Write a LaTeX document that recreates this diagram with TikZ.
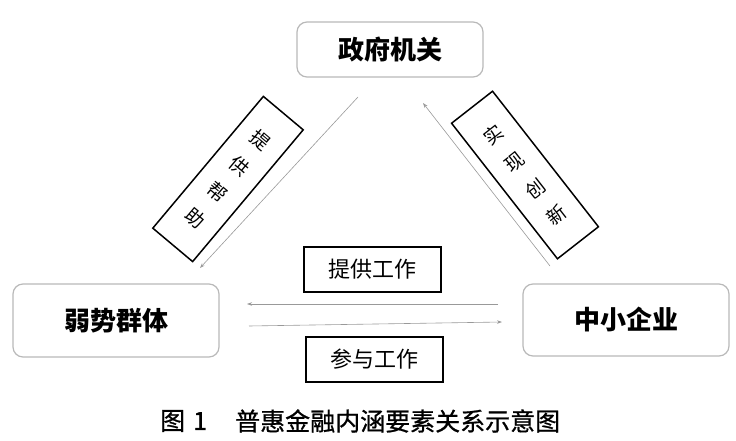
\documentclass[tikz,border=0pt]{standalone}
\usepackage{fontspec}
\setmainfont{Noto Sans CJK SC}
\newfontfamily\capfont[FakeBold=0.8]{Noto Sans CJK SC}
\usetikzlibrary{arrows.meta}
\begin{document}
\begin{tikzpicture}[x=1pt,y=-1pt,
  mainbox/.style={draw=gray!55, line width=1.2pt, rounded corners=10pt, inner sep=0pt,
    font=\fontsize{26}{30}\selectfont\bfseries},
  labelbox/.style={draw=black, line width=1.5pt, inner sep=0pt, minimum width=137pt, minimum height=45pt,
    font=\fontsize{22}{26}\selectfont},
  diagbox/.style={draw=black, line width=1.5pt, inner sep=0pt, align=center,
    minimum width=52pt, minimum height=172pt, font=\fontsize{19}{34}\selectfont},
  flow/.style={draw=gray!80, line width=0.6pt, -{Stealth[length=5pt,width=3.5pt]}},
  captxt/.style={inner sep=0pt, anchor=west, font=\capfont\fontsize{25}{28}\selectfont}]
\path[use as bounding box] (0,0) rectangle (736,441);

\node[mainbox, minimum width=186pt, minimum height=55pt] (gov) at (390,49.5) {政府机关};
\node[mainbox, minimum width=206pt, minimum height=73pt] (weak) at (116,320.5) {弱势群体};
\node[mainbox, minimum width=206pt, minimum height=72pt] (sme) at (626,320) {中小企业};

\node[labelbox] (work1) at (372.5,269.5) {提供工作};
\node[labelbox] (work2) at (374.5,359.5) {参与工作};

\node[diagbox, rotate=-40] (help) at (228,179) {提\\供\\帮\\助};
\node[diagbox, rotate=38] (innov) at (525,175) {实\\现\\创\\新};

\coordinate (a1) at (358,97);
\coordinate (a2) at (200,268);
\coordinate (b1) at (550,266);
\coordinate (b2) at (423,103);
\coordinate (c1) at (498,304);
\coordinate (c2) at (247,304);
\coordinate (d1) at (249,326);
\coordinate (d2) at (502,322);

\draw[flow] (a1) -- (a2);
\draw[flow] (b1) -- (b2);
\draw[flow] (c1) -- (c2);
\draw[flow] (d1) -- (d2);

\node[captxt] (cap1) at (160,421) {图\hspace{8pt}1};
\node[captxt] (cap2) at (235,421) {普惠金融内涵要素关系示意图};
\end{tikzpicture}
\end{document}
